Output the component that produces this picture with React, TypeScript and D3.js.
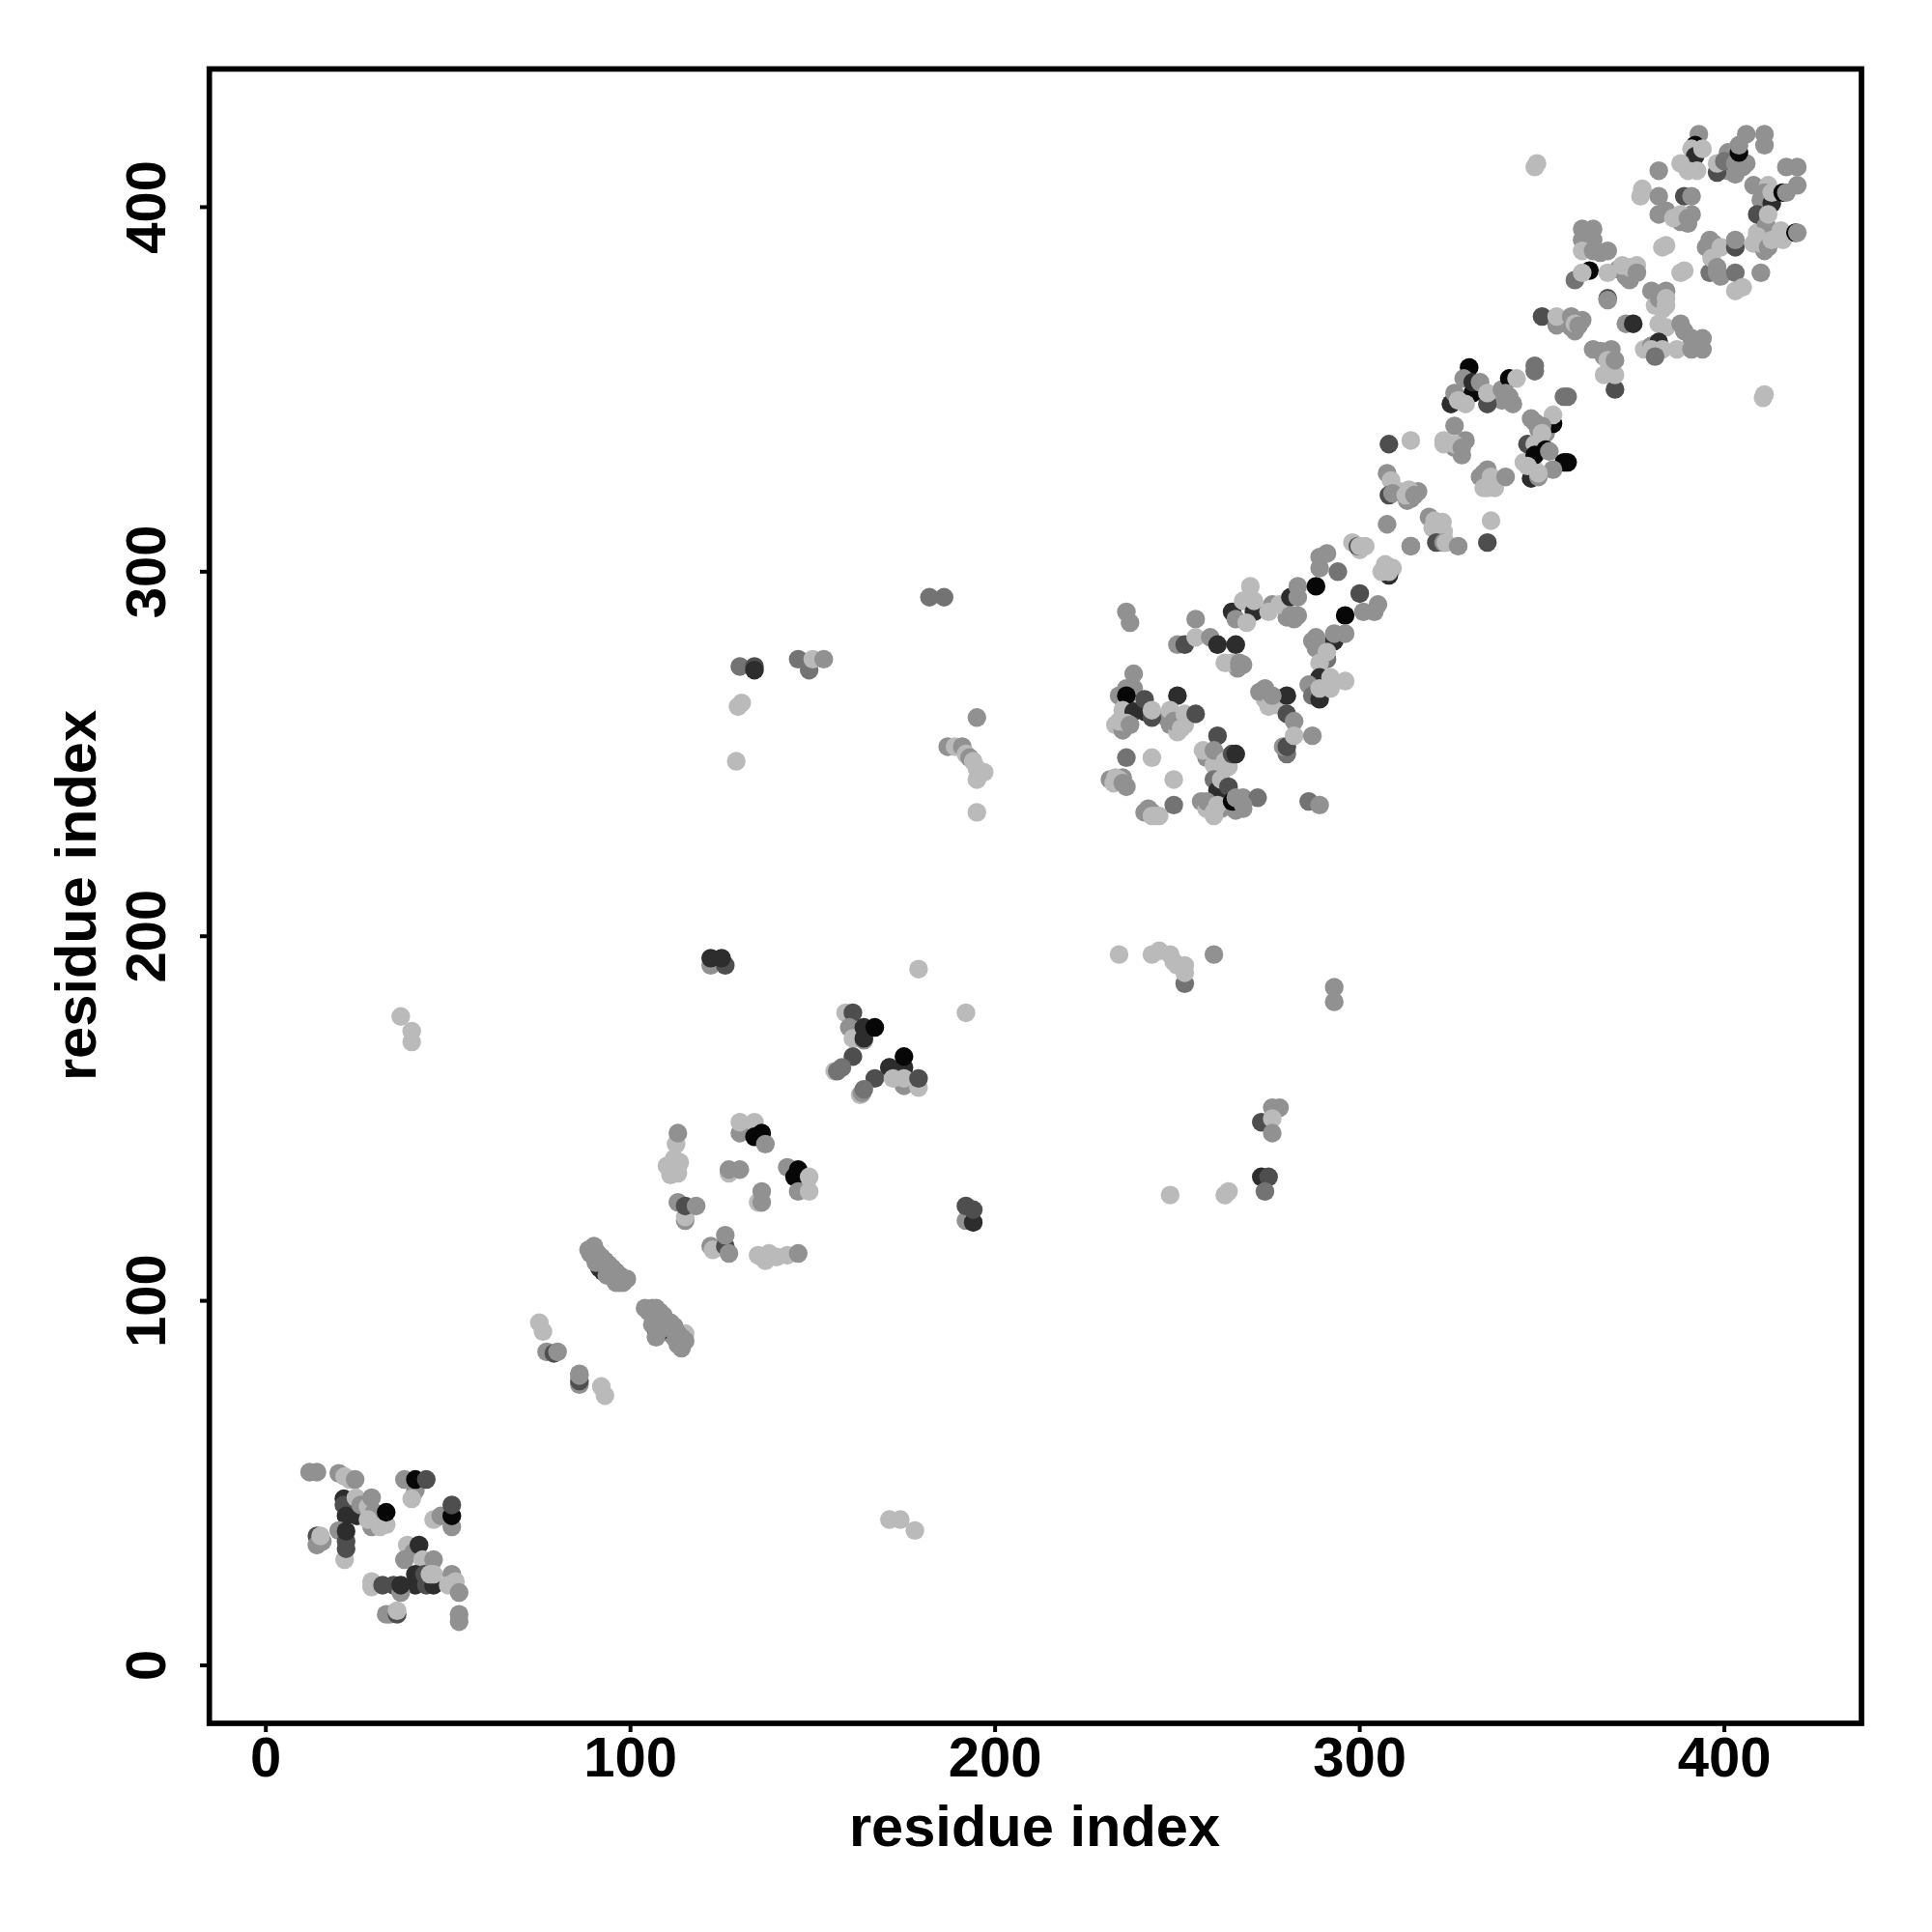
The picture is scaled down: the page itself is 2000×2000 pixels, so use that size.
import React from "react";
import * as d3 from "d3";

// contact score: 0 = darkest, 1 = lightest
const L = 1, M = 0.78, G = 0.62, D = 0.42, K = 0.24, B = 0.04;
type P = [number, number, number];

const underlay: P[] = [[267,274.5,M],[268,274.5,M],[266.5,273.5,M],[272.5,267,M],[274,265,L],[277,263.5,L],[280,287.5,M],[282,287,M],[283,288,M],[241,234,M],[243,234,M],[245,233,L],[231.5,243,M],[232.5,242,L],[236,241,M],[235,243.5,M],[247,260,M],[248,258,M],[251,260,L],[252,258,L],[250,256,L],[233,258,L],[236,260,L],[235,256.5,M],[234,266,M],[236,264,L],[258,249,M],[262,249,L],[260,247,L],[264,246.5,L],[262,246,L],[256.5,237,M],[258,235,L],[262,235,M],[260,233,L],[264,236,M],[268,235,M],[266,234.5,M],[287,281,M],[288,279,M],[290,280,M],[307,300,L],[309,301,L],[307,302,L],[338,348,M],[341,348,M],[342,346,M],[339,347,M],[347,342,M],[349,339,M],[351,338,M],[326,334,M],[329,336,M],[328,332,M],[333,326,M],[335,325,L],[337,323,L],[335,328,M],[311,322,L],[314,320,M],[313,319.5,M],[316,322,M],[319,315,M],[320,312,L],[323,311,L],[323,309,L],[298,308,L],[300,306,L],[301.5,307,L],[345,330,L],[348,328,L],[371,383,M],[373,381,M],[376,384,L],[374,380,M],[388,396,M],[391,398,M],[390,395.5,M],[358,367,M],[361,369,M],[359,366,M],[380,377,M],[381,373,L],[384,377,M],[383,372,L],[378,361,L],[380,362,M],[401,410,M],[403,409,M],[406,412,M],[402,413,M],[401,415,M],[364,361,M],[367,359,M],[369,361,M],[395,389,M],[396,391,M],[396,382,G],[399,381,M],[408,390,L],[411,388,M],[411,391,M],[409,393,L],[408,406,M],[410,402,M],[412,406,L],[89,113,M],[90,112,M],[92,110,M],[95,107,M],[97,106,M],[98,105,M],[96,105,M],[99,106,M],[105,97,M],[110,94,M],[111,91,M],[112,90,M],[113,88,M],[115,91,L],[110,137,L],[113,135,L],[111,134.5,L],[113.5,138,L],[137,111,L],[138,113,L],[135,112.5,L]];
const cornerN: P[] = [[12,53,M],[14,53,M],[20,52.7,M],[21.6,51.8,L],[23,51,L],[24.5,51,M],[21.4,45.7,K],[21.4,44,D],[22,41,K],[25,41,K],[24.7,46,L],[26,44,M],[28,43.5,L],[29,46,M],[29.7,42,M],[29,38,M],[28,40,L],[31.3,38,L],[33,38.6,L],[33,42,B],[20,37,M],[14,35.5,D],[14,33,M],[15.5,34,M],[15,35.5,L],[21.6,29,L],[22,34,D],[22,32,D],[22,36.8,K],[38,51,M],[41,48,M],[40,45.7,L],[41,51,B],[44,51,D],[46,40,L],[48,41,M],[51,38,M],[51,41,B],[51,44,D],[38.8,33,L],[38,29,M],[40.5,31,M],[42,33,K],[43,29,L],[46,29,M],[41,25,K],[41,22,K],[44,22,D],[46,22,K],[43.5,25,D],[45,25,L],[46,25,L],[29,23,L],[29,21.5,L],[32,22,D],[35,22,D],[37,20,M],[37,22,K],[51,25,M],[50,22,L],[52,23,L],[53,20,M],[33,14,M],[34,14,M],[36,14,D],[36,15,L],[53,14,M],[53,12,M]];
const stripes: P[] = [[75,94,L],[76,91.6,L],[77,86,M],[79,85.6,D],[80,86,M],[86,80,M],[86,77,M],[86,78,D],[86,79.5,M],[92,76.5,L],[93,74,L],[88.5,114,M],[90,115,M],[91.5,109,K],[92.5,108,K],[91,113,M],[92,112,M],[93,111,M],[90.5,110.5,M],[94,110,M],[93.5,107,M],[95,109,M],[96,108,M],[97,107,M],[98,106,M],[97,105,M],[104,98,M],[106,98,M],[107,98,M],[107,92,K],[108,91.5,K],[108,97,M],[109,96,M],[106,93.5,M],[108,94,M],[109,92.5,M],[107,90,M],[110,93,M],[111,94,M],[112,93,M],[112,92,M],[113,91,M],[114,87,M],[114,90,M],[115,89,M]];
const helixA: P[] = [[111,136.6,L],[113,136.6,L],[112,139,L],[112.5,143,L],[113,146,M],[113,127,M],[115,122,M],[115,123,L],[115,126,D],[118,126,M],[122,115,M],[122.6,114,L],[126,115,D],[126,118,M],[127,113,M],[136,112,L],[137,112,L],[140,112,L],[143,112.5,L],[146,113,M],[130,146,M],[134,146,M],[130,149,L],[134,149,L],[134,145,B],[136,146,B],[137,143,M],[127,135,L],[127,136,M],[130,136,M],[143,136.6,M],[145,134,B],[146,136,B],[146,130,M],[149,134,L],[149,130,L],[135,127,L],[136,130,M],[136,127,M]];
const helixB: P[] = [[159,179,L],[161,179,D],[160,175,M],[161,172,L],[164,171.5,M],[164,172,K],[164,175,K],[167,175,B],[161,167,D],[156,163,L],[156.7,163,G],[158,164,G],[167,161,D],[163,156.5,L],[163.5,157,M],[164,158,G],[171,164,M],[171,164,K],[175,164,K],[175,167,B],[175,159,M],[172,161,L],[175,161,L],[179,158.5,L],[179,161,D],[192,179,L],[179,191,L]];
const scattered: P[] = [[37,178,L],[40,174,L],[40,171,L],[122,192,M],[126,192,D],[122,194,K],[125,194,K],[192,122,M],[194,121.5,K],[192,126,D],[194,125,D],[234,195,L],[245,196,L],[243,195,L],[248,195,L],[249,193,L],[250,192,L],[252,187,G],[252,190,L],[252,192,L],[260,195,M],[293,186,M],[293,182,M],[273,149,D],[276,153,M],[278,153,M],[276,150,L],[276,146,M],[273,134,K],[275,134,D],[274,130,G],[248,129,L],[263,129,L],[264,130,L],[171,40,L],[174,40,L],[178,37,L],[130,274,G],[134,274,D],[134,273,K],[146,276,G],[149,273,G],[150,276,L],[153,276,M],[129.5,263,L],[130.5,264,L],[129,248,L],[182,293,G],[186,293,G],[195,260,M],[187,252,M],[189,252,L],[191,252,M],[192,250,L],[193,249,M],[194,248,L],[195,246,L],[197,245,L],[195,243,L],[195,234,L]];
const sheetC: P[] = [[236,289,M],[237,286,M],[255,287,M],[250,280,M],[252,280,D],[255,282,L],[259,282,M],[261,280,K],[266,280,K],[263,275,L],[265,275,L],[267,274,M],[267,275,M],[236,268,M],[238,272,M],[238,268,M],[236,266,B],[235,262,L],[238,261.6,K],[241,261.6,K],[241,265,D],[243,260,D],[243,262,L],[234,259,L],[236,258.5,L],[237,258,M],[250,266,K],[248,262,L],[249,259,M],[252,261,L],[251,257,L],[255,261,D],[270,296,L],[265,289,K],[266,287,M],[268,292,L],[271,289,K],[269,286,L],[271,292,L],[276,291,M],[275,289,L],[278,291,L],[281,293,K],[283,296,M],[283,293,M],[281,288,M],[282,288,M],[288,296,B],[289,301,M],[289,304,M],[291,305,M],[294,300,G],[300,294,D],[296,288,B],[301,289,M],[304,289,M],[305,291,M],[293,281,K],[288,281,M],[288,282,M],[293,283,M],[296,283,M],[291,276,G],[289,275,L],[291,278,L],[289,271,K],[286,269,M],[287,266,G],[289,265,K],[289,268,L],[292,268,L],[292,271,L],[296,270,L],[280,266,K],[273,267,M],[274,268,M],[275,263,L],[276,266,M],[280,261,D],[282,259,M],[280,250,G],[279,252,M],[280,252,D],[282,255,L],[287,255,M],[261,255,D],[257,251,L],[260,251,M],[263,248,L],[265,250,D],[266,250,K],[236,249,G],[243,249,L],[233,243.5,L],[234,243,L],[235,242,M],[249,243,L],[242,235,M],[243,233,L],[244,233,L],[249,236,G],[260,243,G],[261,240,K],[262,243,L],[264,241,D],[258,237,M],[261,236,L],[260,234,L],[265,237,B],[266,238,M],[268,238,M],[272,238,G],[268,236,M],[286,237,G],[289,236,M]];
const sheetD: P[] = [[299.5,307,D],[300,307,L],[314,307,M],[308,299,K],[306,300,L],[308,300,L],[308,335,D],[314,336,L],[326,340,M],[323,336,L],[323,335,L],[326,335,L],[328,334,M],[307.5,327,M],[308.6,325,L],[308,321,D],[309,321.5,M],[312.6,321,L],[313.5,322.5,L],[315,321,M],[307.5,313,M],[314,307,M],[320.5,314,L],[322.7,313.6,L],[321,308,D],[323,308,M],[323.6,308,L],[327,307,M],[336,314,L],[335,308,D],[334,327,M],[334,323,L],[335,323,L],[336,326,L],[340,326,M],[330,356,B],[325,346,K],[326,349,M],[328.5,353,M],[331,349,B],[331,352,K],[327,347,L],[329,346,L],[333,352,M],[335,346,D],[335,349,L],[339,350,M],[341,353,B],[343,353,L],[340,349,M],[341,347,M],[348,356.5,G],[348,355,G],[357,348,G],[356,348,G],[353,340.6,B],[353,343,L],[346,335,D],[348,341,M],[350,340,M],[350,338,L],[348,335,L],[348,332,B],[351,333.5,B],[352,333,M],[356,330,B],[357,330,B],[353,328,M],[347,325.6,K],[346,329,L],[349,326,M],[349,327,L]];
const topE: P[] = [[350,370,D],[354,367.6,M],[354,370,L],[358,370,M],[359,368,L],[360,367.5,M],[370,350,D],[367,354,L],[370,354,L],[367,360,M],[366,360.5,M],[368,358,L],[370,358,M],[361,394,M],[364,394,M],[361,391,M],[364,391,M],[361,388,L],[364,388,M],[366,387.5,M],[368,388,M],[359,380,G],[363,382.6,B],[361,382,L],[368,382,L],[372,384,L],[374,383.5,L],[376,382,M],[368,375,D],[368,374.5,M],[382,375,M],[384,375,L],[384,373,L],[373,368,M],[375,368,K],[382,368,L],[384,367,L],[388,368,M],[382,363,K],[383,361,L],[380,361,L],[381,359,G],[387,361,L],[391,364,M],[394,364,M],[391,361,M],[394,361,M],[389,366,M],[348.6,412,L],[348,411,L],[377.5,405,L],[377,403,L],[382,410,M],[382,403,M],[382,398,M],[384,399,M],[386,397,L],[388,398,L],[390,397,M],[389,403,D],[391,403,M],[383,389,L],[384,389.5,L],[389,382.6,L],[388,382,L],[393,420,M],[392,417,B],[391,416,L],[392,414,K],[394,416,L],[388,412,L],[390,410,L],[392.5,410,L],[398,409.5,D],[398,412,L],[400,412.6,G],[403,412,M],[405,411,M],[404,415,B],[404,417,M],[406,420,M],[411,420,M],[411,417,M],[417,411,M],[420,411,M],[397,390,M],[399,389,L],[396.5,386,L],[398,383.5,M],[398,382,M],[403,389,D],[403,391,M],[403,382,G],[410,382,M],[403,377,L],[405,378,L],[409,398,D],[411,404,M],[413,401,K],[413,404,L],[416,404,B],[417,404,M],[420,406,M],[411.5,395,M],[412,398,L],[409,392,L],[410,390,L],[412,389,M],[413,391,L],[415.5,393.6,L],[416,391,L],[419.5,393,B],[420,393,M],[411,348.6,L],[410.6,347.7,L]];

const clusters = [underlay, cornerN, stripes, helixA, helixB, scattered, sheetC, sheetD, topE];
const xTicks = [0, 100, 200, 300, 400];
const yTicks = [0, 100, 200, 300, 400];
const axisTitle = "residue index";

const xScale = d3.scaleLinear().domain([-15.5, 437.6]).range([216.7, 1927]);
const yScale = d3.scaleLinear().domain([-15.9, 437.9]).range([1784, 71.4]);
const shade = d3.scaleLinear<string>().domain([0, 1]).range(["#000000", "#bababa"]);
const font = "'Liberation Sans', Arial, sans-serif";

export default function App() {
  const points = clusters.flat();
  return (
    <svg width={2000} height={2000} style={{ position: "absolute", left: 0, top: 0, background: "#fff" }}>
      <g>
        {points.map(([x, y, s], i) => (
          <circle key={i} cx={xScale(x)} cy={yScale(y)} r={9.7} fill={shade(s)} />
        ))}
      </g>
      <rect x={216.7} y={71.4} width={1927 - 216.7} height={1784 - 71.4} fill="none" stroke="#000" strokeWidth={5.7} />
      {xTicks.map((t) => (
        <g key={t}>
          <line x1={xScale(t)} x2={xScale(t)} y1={1784} y2={1793} stroke="#000" strokeWidth={4} />
          <text x={xScale(t)} y={1839} textAnchor="middle" fontFamily={font} fontWeight={700} fontSize={58}>{t}</text>
        </g>
      ))}
      {yTicks.map((t) => (
        <g key={t}>
          <line x1={207} x2={216.7} y1={yScale(t)} y2={yScale(t)} stroke="#000" strokeWidth={4} />
          <text transform={`translate(171,${yScale(t)}) rotate(-90)`} textAnchor="middle" fontFamily={font} fontWeight={700} fontSize={58}>{t}</text>
        </g>
      ))}
      <text x={1071} y={1911} textAnchor="middle" fontFamily={font} fontWeight={700} fontSize={59.6}>{axisTitle}</text>
      <text transform="translate(99,927) rotate(-90)" textAnchor="middle" fontFamily={font} fontWeight={700} fontSize={59.6}>{axisTitle}</text>
    </svg>
  );
}
